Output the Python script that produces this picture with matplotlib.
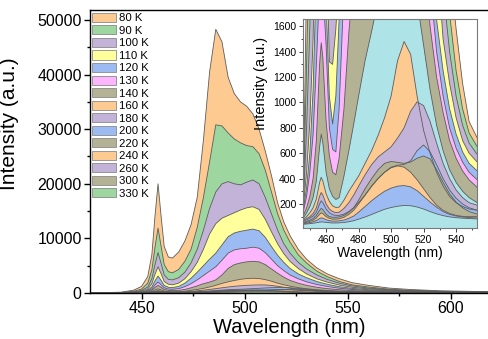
import matplotlib
matplotlib.use('Agg')
import matplotlib.pyplot as plt
from matplotlib.patches import Patch
from matplotlib.ticker import MultipleLocator, FixedLocator

plt.rcParams['font.family'] = ['Liberation Sans', 'DejaVu Sans']

temps = ['80 K', '90 K', '100 K', '110 K', '120 K', '130 K', '140 K', '160 K',
         '180 K', '200 K', '220 K', '240 K', '260 K', '300 K', '330 K']

# ---------------- main panel data (wavelength nm, intensity a.u.) ----------------
wl = [425, 440, 446, 450, 453, 455, 456.5, 458, 459.5, 461, 463, 465, 468, 471, 474, 477,
      480, 483, 486, 489, 492, 495, 498, 501, 504, 507, 510, 513, 516, 519, 522, 526,
      530, 535, 540, 546, 552, 560, 570, 580, 595, 610, 620]

m80 = [0, 150, 500, 1200, 3000, 7000, 14000, 20000, 14000, 8500, 6600, 6400, 7500, 9500, 12500, 17500,
       28000, 40500, 48300, 46000, 39500, 36500, 35000, 34200, 32800, 30000, 26000, 21500, 16500, 13000, 10500, 8000,
       6200, 4600, 3500, 2600, 1900, 1400, 900, 650, 400, 300, 250]
m90 = [0, 80, 300, 700, 1800, 4200, 8300, 11900, 8500, 5200, 3900, 3700, 4300, 5800, 8000, 12000,
       17500, 24000, 30800, 30600, 29300, 28200, 27500, 27000, 26800, 25500, 22500, 18500, 14500, 11500, 9300, 7000,
       5500, 4000, 3000, 2100, 1500, 1100, 700, 500, 320, 250, 200]
m100 = [0, 50, 200, 450, 1100, 2600, 5200, 7400, 5400, 3300, 2500, 2400, 2800, 3800, 5500, 8000,
        11500, 15500, 18500, 20000, 20400, 20000, 19800, 20300, 20700, 20000, 17500, 14500, 11500, 9000, 7300, 5600,
        4400, 3300, 2500, 1800, 1300, 900, 600, 420, 280, 200, 170]
m110 = [0, 40, 130, 300, 700, 1700, 3400, 4800, 3500, 2100, 1600, 1500, 1800, 2600, 3900, 5600,
        8000, 10800, 12700, 13700, 14200, 14700, 15200, 15600, 15800, 15300, 13500, 11200, 9000, 7200, 5800, 4500,
        3500, 2600, 2000, 1450, 1050, 750, 500, 350, 240, 180, 150]
m120 = [0, 30, 90, 200, 480, 1100, 2200, 3100, 2300, 1400, 1050, 1000, 1200, 1800, 2700, 3800,
        5000, 6200, 7300, 8800, 10300, 11000, 11300, 11500, 11700, 11400, 10200, 8500, 6900, 5600, 4500, 3500,
        2800, 2100, 1600, 1150, 850, 600, 400, 280, 200, 150, 120]
m130 = [0, 20, 60, 140, 330, 750, 1450, 2000, 1500, 950, 720, 680, 800, 1150, 1700, 2400,
        3200, 4000, 4800, 6000, 7300, 7900, 8100, 8200, 8400, 8200, 7400, 6200, 5000, 4100, 3300, 2600,
        2050, 1550, 1200, 870, 650, 450, 300, 220, 160, 120, 100]
m140 = [0, 15, 40, 100, 230, 520, 1000, 1400, 1050, 650, 480, 440, 480, 650, 950, 1300,
        1700, 2000, 2400, 3300, 4500, 5200, 5500, 5700, 5800, 5700, 5200, 4400, 3600, 2900, 2300, 1800,
        1400, 1050, 800, 600, 450, 320, 220, 160, 120, 90, 80]
m160 = [0, 10, 25, 55, 130, 300, 550, 750, 560, 350, 260, 230, 250, 330, 480, 650,
        850, 1100, 1400, 1750, 2050, 2300, 2500, 2650, 2700, 2650, 2450, 2150, 1800, 1500, 1250, 980,
        780, 600, 460, 350, 270, 200, 140, 100, 75, 60, 50]
m180 = [0, 8, 18, 40, 90, 200, 350, 455, 360, 240, 190, 170, 175, 220, 300, 400,
        520, 650, 800, 950, 1100, 1230, 1320, 1400, 1450, 1480, 1470, 1380, 1230, 1050, 880, 700,
        560, 430, 330, 250, 190, 140, 100, 75, 55, 45, 40]
m200 = [0, 6, 13, 30, 65, 140, 230, 297, 240, 170, 140, 130, 130, 150, 190, 240,
        300, 370, 450, 530, 600, 650, 690, 740, 800, 860, 920, 970, 995, 1000, 960, 850,
        700, 520, 390, 280, 210, 150, 105, 80, 60, 50, 45]
m220 = [0, 5, 11, 25, 50, 110, 180, 225, 185, 140, 118, 112, 110, 120, 140, 170,
        210, 250, 290, 340, 390, 430, 470, 490, 505, 512, 530, 580, 640, 665, 640, 560,
        460, 350, 270, 210, 170, 130, 95, 75, 55, 45, 40]
m240 = [0, 4, 9, 20, 40, 85, 135, 165, 140, 110, 98, 95, 98, 112, 135, 170,
        230, 290, 350, 410, 460, 500, 525, 535, 530, 522, 520, 535, 560, 578, 565, 500,
        420, 320, 245, 185, 145, 110, 80, 65, 50, 40, 35]
m260 = [0, 3, 8, 18, 35, 70, 110, 130, 115, 95, 83, 80, 82, 95, 120, 155,
        210, 260, 310, 360, 400, 440, 470, 490, 500, 495, 475, 440, 395, 340, 285, 220,
        175, 130, 110, 95, 88, 75, 60, 50, 40, 35, 30]
m300 = [0, 2, 6, 14, 28, 50, 75, 90, 80, 70, 66, 65, 66, 72, 85, 105,
        135, 165, 200, 235, 265, 295, 320, 335, 342, 345, 340, 325, 300, 265, 230, 185,
        150, 120, 105, 95, 88, 75, 60, 50, 40, 35, 30]
m330 = [0, 2, 5, 12, 22, 35, 50, 58, 55, 52, 50, 50, 51, 54, 60, 68,
        80, 95, 110, 125, 140, 155, 168, 177, 183, 187, 188, 185, 178, 165, 150, 130,
        118, 105, 97, 92, 90, 75, 60, 50, 40, 35, 30]

# ---------------- inset data ----------------
wl_in = [446, 448, 450, 452, 454, 456, 457, 458, 460, 462, 464, 466, 468, 471, 474, 477,
         480, 484, 488, 492, 496, 500, 504, 508, 512, 516, 520, 524, 528, 532, 536, 540,
         544, 548, 553]

n80 = [300, 2000, 4000, 6000, 9000, 16000, 19000, 17000, 9000, 7000, 6500, 6400, 7000, 9000, 12000, 17000,
       28000, 44000, 47000, 40000, 35500, 34500, 32500, 28000, 20000, 13000, 8000, 5500, 4000, 2800, 2100, 1580,
       1150, 850, 720]
n90 = [240, 1300, 2500, 3800, 5500, 9500, 11500, 10000, 5500, 4200, 3800, 3800, 4200, 5500, 8000, 12000,
       17500, 26000, 31000, 29500, 27800, 27200, 26800, 24000, 17000, 11000, 7000, 4800, 3300, 2300, 1700, 1250,
       950, 760, 650]
n100 = [200, 800, 1600, 2800, 4000, 6500, 7300, 6500, 3800, 2700, 2450, 2450, 2800, 3800, 5500, 8000,
        11500, 16500, 19500, 20400, 19900, 20200, 20700, 19000, 13000, 8500, 5700, 3900, 2700, 1900, 1400, 1050,
        820, 680, 590]
n110 = [180, 450, 850, 1500, 2700, 4300, 4800, 4300, 2400, 1320, 1300, 1580, 2000, 2800, 3900, 5600,
        8000, 11500, 13500, 14200, 15000, 15600, 15800, 14800, 10500, 7000, 4700, 3200, 2200, 1500, 1150, 880,
        700, 600, 530]
n120 = [160, 330, 600, 1100, 2000, 2900, 3100, 2800, 1800, 1050, 830, 1050, 1650, 2400, 3200, 4200,
        5300, 6800, 8500, 10500, 11200, 11500, 11700, 11000, 8200, 5500, 3600, 2400, 1650, 1250, 950, 750,
        610, 520, 460]
n130 = [140, 260, 450, 750, 1300, 1900, 2050, 1900, 1450, 800, 630, 610, 950, 1900, 2500, 3000,
        3600, 4500, 5700, 7300, 8000, 8200, 8400, 8000, 6000, 4000, 2600, 1950, 1400, 1050, 800, 640,
        530, 450, 390]
n140 = [110, 170, 260, 400, 700, 1300, 1470, 1350, 850, 580, 450, 430, 560, 950, 1550, 2000,
        2400, 2800, 3500, 4600, 5300, 5700, 5800, 5500, 4200, 3000, 2150, 1600, 1200, 920, 700, 560,
        460, 390, 330]
n160 = [90, 130, 180, 250, 380, 650, 750, 680, 450, 320, 260, 235, 250, 420, 620, 830,
        1050, 1330, 1560, 1800, 2100, 2400, 2600, 2500, 2100, 1800, 1450, 1100, 820, 620, 470, 370,
        300, 250, 210]
n180 = [80, 100, 130, 170, 240, 370, 410, 380, 280, 220, 185, 172, 175, 230, 300, 360,
        420, 520, 620, 740, 880, 1050, 1330, 1480, 1380, 1050, 780, 600, 450, 340, 260, 210,
        180, 160, 150]
n200 = [70, 85, 100, 125, 170, 260, 290, 270, 200, 160, 140, 132, 135, 165, 210, 270,
        340, 430, 510, 570, 610, 650, 720, 800, 930, 1005, 975, 850, 680, 520, 400, 310,
        250, 210, 190]
n220 = [65, 75, 88, 105, 135, 200, 225, 210, 160, 130, 115, 110, 110, 120, 140, 170,
        210, 270, 340, 400, 450, 490, 505, 512, 540, 620, 665, 610, 510, 400, 310, 245,
        200, 170, 150]
n240 = [55, 63, 72, 85, 110, 150, 165, 155, 120, 100, 95, 95, 98, 110, 135, 170,
        230, 320, 400, 470, 520, 535, 528, 520, 530, 560, 578, 555, 470, 370, 280, 215,
        170, 140, 120]
n260 = [50, 55, 62, 72, 90, 118, 130, 123, 100, 86, 80, 80, 83, 95, 118, 150,
        200, 270, 340, 400, 450, 485, 500, 490, 450, 390, 320, 250, 190, 150, 125, 110,
        102, 100, 100]
n300 = [45, 48, 53, 60, 70, 85, 90, 88, 76, 68, 65, 65, 67, 73, 87, 105,
        135, 180, 225, 265, 300, 325, 340, 345, 335, 305, 260, 215, 175, 140, 118, 105,
        97, 93, 90]
n330 = [40, 42, 45, 48, 52, 57, 58, 58, 55, 52, 50, 50, 51, 54, 60, 68,
        80, 97, 117, 138, 158, 172, 182, 188, 186, 176, 160, 140, 122, 108, 98, 92,
        88, 85, 82]

main_series = [m80, m90, m100, m110, m120, m130, m140, m160, m180, m200, m220, m240, m260, m300, m330]
inset_series = [n80, n90, n100, n110, n120, n130, n140, n160, n180, n200, n220, n240, n260, n300, n330]

# ---------------- styles ----------------
OR, GR, PU, YE, BL, PI, OL, CY = ('#FDCA92', '#9DD79F', '#C4B3D8', '#FFFF9C',
                                  '#9BBBF2', '#FDB5FD', '#B3B294', '#AEE3E8')
main_colors = [OR, GR, PU, YE, BL, PI, OL, OR, PU, BL, OL, OR, PU, OL, GR]
inset_colors = [OR, GR, PU, YE, BL, PI, OL, CY, OR, PU, BL, OL, OR, BL, CY]
EDGE = '#5c5c5c'

fig = plt.figure(figsize=(4.88, 3.39), dpi=100)
ax = fig.add_axes([0.1844, 0.1357, 0.8156, 0.8348])

for y, c in zip(main_series, main_colors):
    ax.fill_between(wl, 0, y, facecolor=c, edgecolor='none', lw=0)
    ax.plot(wl, y, color=EDGE, lw=0.6)

ax.set_xlim(425, 618)
ax.set_ylim(0, 51830)
ax.xaxis.set_major_locator(FixedLocator([450, 500, 550, 600]))
ax.xaxis.set_minor_locator(FixedLocator([475, 525, 575]))
ax.yaxis.set_major_locator(MultipleLocator(10000))
ax.yaxis.set_minor_locator(MultipleLocator(5000))
ax.tick_params(which='both', direction='out', top=False, right=False, width=1, labelsize=11.5, pad=2)
ax.tick_params(which='major', length=4)
ax.tick_params(which='minor', length=2.5)
ax.spines['right'].set_visible(False)
for s in ('left', 'bottom', 'top'):
    ax.spines[s].set_linewidth(1.0)
ax.set_xlabel('Wavelength (nm)', fontsize=14.5, labelpad=1)
ax.set_ylabel('Intensity (a.u.)', fontsize=15)
ax.yaxis.set_label_coords(-0.178, 0.60)

handles = [Patch(facecolor=c, edgecolor='#8a8a8a', lw=0.6) for c in main_colors]
ax.legend(handles, temps, loc='upper left', bbox_to_anchor=(0.006, 0.99), frameon=False,
          fontsize=8.2, handlelength=2.05, handleheight=0.85, labelspacing=0.18,
          handletextpad=0.3, borderpad=0, borderaxespad=0)

# ---------------- inset ----------------
axin = fig.add_axes([0.6203, 0.3265, 0.3566, 0.6165])
for y, c in zip(inset_series, inset_colors):
    axin.fill_between(wl_in, 0, y, facecolor=c, edgecolor='none', lw=0)
    axin.plot(wl_in, y, color=EDGE, lw=0.6)
axin.set_xlim(445.6, 552.7)
axin.set_ylim(8, 1655)
axin.xaxis.set_major_locator(FixedLocator([460, 480, 500, 520, 540]))
axin.xaxis.set_minor_locator(FixedLocator([450, 470, 490, 510, 530, 550]))
axin.yaxis.set_major_locator(FixedLocator([200, 400, 600, 800, 1000, 1200, 1400, 1600]))
axin.yaxis.set_minor_locator(FixedLocator([100, 300, 500, 700, 900, 1100, 1300, 1500]))
axin.tick_params(which='both', direction='out', top=False, right=False, width=0.7,
                 labelsize=7.5, pad=1.5, color='#444444')
axin.tick_params(which='major', length=3)
axin.tick_params(which='minor', length=1.5)
for s in axin.spines.values():
    s.set_color('#7a7a7a')
    s.set_linewidth(0.8)
axin.set_xlabel('Wavelength (nm)', fontsize=10, labelpad=1)
axin.set_ylabel('Intensity (a.u.)', fontsize=10.5)
axin.yaxis.set_label_coords(-0.20, 0.695)

fig.savefig('out.png', dpi=100)
